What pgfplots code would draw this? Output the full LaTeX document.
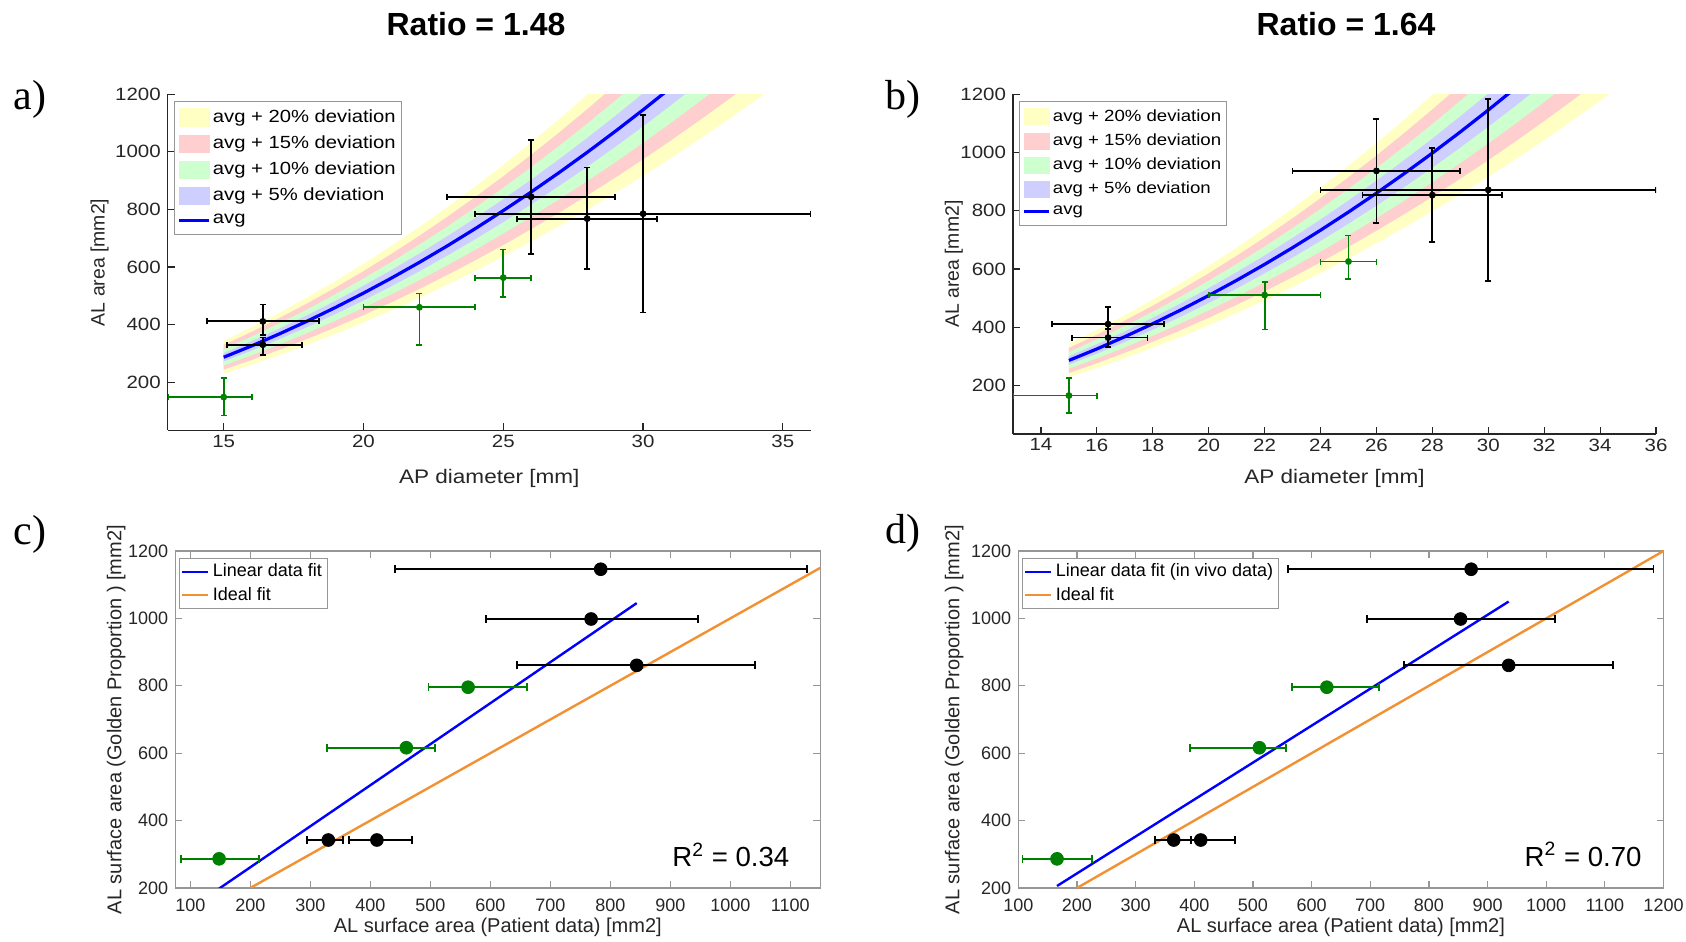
\documentclass[border=0pt]{standalone}
\usepackage{pgfplots}
\pgfplotsset{compat=1.18}
\usepackage{pgfplotstable}
\usepgfplotslibrary{fillbetween}
\usepackage{fontspec}
\setmainfont{Liberation Sans}
\newfontfamily\axs{Liberation Sans}[FakeStretch=1.15]
\newfontfamily\serifl{Liberation Serif}
\definecolor{mgray}{RGB}{38,38,38}
\definecolor{lgray}{RGB}{150,150,150}
\definecolor{cYel}{RGB}{255,255,196}
\definecolor{cRed}{RGB}{255,206,206}
\definecolor{cGrn}{RGB}{206,255,206}
\definecolor{cBlu}{RGB}{206,206,255}
\definecolor{mgreen}{RGB}{0,128,0}
\definecolor{morange}{RGB}{242,145,50}

\pgfplotstableread{
x avg u05 l05 u10 l10 u15 l15 u20 l20
15 286.5 300.8 272.2 315.2 257.9 329.5 243.5 343.8 229.2
16 325.9 342.2 309.6 358.5 293.3 374.8 277.0 391.1 260.7
17 368.0 386.4 349.6 404.8 331.2 423.2 312.8 441.6 294.4
18 412.5 433.1 391.9 453.8 371.3 474.4 350.6 495.0 330.0
19 459.6 482.6 436.6 505.6 413.6 528.5 390.7 551.5 367.7
20 509.3 534.8 483.8 560.2 458.4 585.7 432.9 611.2 407.4
21 561.5 589.6 533.4 617.7 505.4 645.7 477.3 673.8 449.2
22 616.2 647.0 585.4 677.8 554.6 708.6 523.8 739.4 493.0
23 673.5 707.2 639.8 740.9 606.2 774.5 572.5 808.2 538.8
24 733.4 770.1 696.7 806.7 660.1 843.4 623.4 880.1 586.7
25 795.8 835.6 756.0 875.4 716.2 915.2 676.4 955.0 636.6
26 860.7 903.7 817.7 946.8 774.6 989.8 731.6 1032.8 688.6
27 928.2 974.6 881.8 1021.0 835.4 1067.4 789.0 1113.8 742.6
28 998.2 1048.1 948.3 1098.0 898.4 1147.9 848.5 1197.8 798.6
29 1070.8 1124.3 1017.3 1177.9 963.7 1231.4 910.2 1285.0 856.6
30 1145.9 1203.2 1088.6 1260.5 1031.3 1317.8 974.0 1375.1 916.7
31 1223.6 1284.8 1162.4 1346.0 1101.2 1407.1 1040.1 1468.3 978.9
32 1303.8 1369.0 1238.6 1434.2 1173.4 1499.4 1108.2 1564.6 1043.0
33 1386.5 1455.8 1317.2 1525.2 1247.9 1594.5 1178.5 1663.8 1109.2
34 1471.8 1545.4 1398.2 1619.0 1324.6 1692.6 1251.0 1766.2 1177.4
35 1559.7 1637.7 1481.7 1715.7 1403.7 1793.7 1325.7 1871.6 1247.8
}\bandtab

\newcommand{\drawbands}[1]{%
  \addplot[draw=none, name path=#1u20, forget plot] table[x=x,y=u20]{\bandtab};
  \addplot[draw=none, name path=#1l20, forget plot] table[x=x,y=l20]{\bandtab};
  \addplot[draw=none, name path=#1u15, forget plot] table[x=x,y=u15]{\bandtab};
  \addplot[draw=none, name path=#1l15, forget plot] table[x=x,y=l15]{\bandtab};
  \addplot[draw=none, name path=#1u10, forget plot] table[x=x,y=u10]{\bandtab};
  \addplot[draw=none, name path=#1l10, forget plot] table[x=x,y=l10]{\bandtab};
  \addplot[draw=none, name path=#1u05, forget plot] table[x=x,y=u05]{\bandtab};
  \addplot[draw=none, name path=#1l05, forget plot] table[x=x,y=l05]{\bandtab};
  \addplot[fill=cYel, draw=none, forget plot] fill between[of=#1u20 and #1l20];
  \addplot[fill=cRed, draw=none, forget plot] fill between[of=#1u15 and #1l15];
  \addplot[fill=cGrn, draw=none, forget plot] fill between[of=#1u10 and #1l10];
  \addplot[fill=cBlu, draw=none, forget plot] fill between[of=#1u05 and #1l05];
  \addplot[blue, line width=1.6pt, forget plot] table[x=x,y=avg]{\bandtab};
}

% #1 = swatch width, #2 = half swatch height
\newcommand{\bandlegend}[2]{%
  \addlegendimage{legend image code/.code={\fill[cYel] (0pt,-#2) rectangle (#1,#2);}}
  \addlegendentry{avg + 20\% deviation}
  \addlegendimage{legend image code/.code={\fill[cRed] (0pt,-#2) rectangle (#1,#2);}}
  \addlegendentry{avg + 15\% deviation}
  \addlegendimage{legend image code/.code={\fill[cGrn] (0pt,-#2) rectangle (#1,#2);}}
  \addlegendentry{avg + 10\% deviation}
  \addlegendimage{legend image code/.code={\fill[cBlu] (0pt,-#2) rectangle (#1,#2);}}
  \addlegendentry{avg + 5\% deviation}
  \addlegendimage{legend image code/.code={\draw[blue, line width=1.6pt] (0pt,0pt) -- (#1,0pt);}}
  \addlegendentry{avg}
}

\pgfplotsset{
  common/.style={
    scale only axis,
    tick align=inside,
    major tick length=3.5pt,
    ticklabel style={font=\fontsize{9}{10}\selectfont, text=mgray},
    label style={font=\fontsize{10}{12}\selectfont, text=mgray},
    /pgf/number format/1000 sep={},
    /pgf/number format/assume math mode=true,
    ytick={200,400,...,1200},
    legend cell align=left,
  },
  toppanel/.style={
    common,
    xticklabel shift=-1.2pt,
    ticklabel style={font=\axs\fontsize{8.9}{10}\selectfont, text=mgray},
    xlabel style={font=\axs\fontsize{9.8}{11}\selectfont, text=mgray},
    ylabel style={font=\fontsize{9.7}{11}\selectfont, text=mgray},
    axis x line*=bottom, axis y line*=left,
    axis line style={-, mgray, line width=0.6pt},
    tick style={mgray, line width=0.6pt},
    xmin=13, xmax=36, ymax=1200,
    legend style={at={(axis description cs:0.0095,0.98)}, anchor=north west,
      draw=lgray, fill=white, text=black,
      inner xsep=1.5pt, inner ysep=2.5pt},
  },
  botpanel/.style={
    common,
    xticklabel shift=2pt,
    axis line style={lgray, line width=0.6pt},
    tick style={lgray, line width=0.6pt},
    ymin=200, ymax=1200,
    legend style={at={(axis description cs:0.005,0.98)}, anchor=north west,
      draw=lgray, fill=white, font=\fontsize{9}{10}\selectfont, text=black,
      row sep=0pt, inner xsep=1pt, inner ysep=1pt,
      nodes={inner sep=1.8pt}},
  },
  fitline/.style={line width=1.2pt, legend image code/.code={\draw (0pt,0pt) -- (13pt,0pt);}},
  ptsA/.style={only marks, mark=*, mark size=1.5pt, #1, mark options={fill=#1, draw=#1},
    error bars/.cd, x dir=both, x explicit, y dir=both, y explicit,
    error bar style={line width=0.9pt, #1},
    error mark options={rotate=90, line width=0.9pt, mark size=1.5pt, #1}},
  ptsC/.style={only marks, mark=*, mark size=3.2pt, #1, mark options={fill=#1, draw=#1},
    error bars/.cd, x dir=both, x explicit,
    error bar style={line width=0.9pt, #1},
    error mark options={rotate=90, line width=0.9pt, mark size=2pt, #1}},
}

\begin{document}
\begin{tikzpicture}
\path (0pt,0pt) rectangle (843pt,471pt);

% ---------- panel a ----------
\begin{axis}[toppanel, at={(83.9pt,255.75pt)}, anchor=south west,
  width=321.5pt, height=168.1pt, ymin=32,
  xtick={15,20,25,30,35},
  xlabel={AP diameter [mm]}, ylabel={AL area [mm2]},
  xlabel style={at={(axis description cs:0.5,-0.142)}, anchor=center},
  ylabel style={at={(axis description cs:-0.106,0.5)}, anchor=center},
  legend style={font=\axs\fontsize{8.8}{10}\selectfont, row sep=2pt,
    nodes={inner xsep=1.2pt, inner ysep=1.6pt}},
]
\bandlegend{15pt}{4.3pt}
\drawbands{A}
\addplot[forget plot, ptsA=black] coordinates {
 (16.4,411) += (2.0,59) -= (2.0,46)
 (16.4,330) += (1.41,25) -= (1.27,35)
 (26,844) += (3,197) -= (3,199)
 (28,768) += (2.5,178) -= (2.5,175)
 (30,785) += (6,344) -= (6,343)
};
\addplot[forget plot, ptsA=mgreen] coordinates {
 (15,148) += (1,66) -= (2,64)
 (22,460) += (2,48) -= (2,132)
 (25,563) += (1,98) -= (1,66)
};
\end{axis}

% ---------- panel b ----------
\begin{axis}[toppanel, at={(506.5pt,254pt)}, anchor=south west,
  width=321.5pt, height=169.85pt, ymin=34,
  xtick={14,16,...,36},
  xlabel={AP diameter [mm]}, ylabel={AL area [mm2]},
  xlabel style={at={(axis description cs:0.5,-0.131)}, anchor=center},
  ylabel style={at={(axis description cs:-0.092,0.5)}, anchor=center},
  legend style={font=\axs\fontsize{8.1}{9.5}\selectfont, row sep=1.7pt,
    nodes={inner xsep=1.1pt, inner ysep=1.5pt}},
]
\bandlegend{12.5pt}{4pt}
\drawbands{B}
\addplot[forget plot, ptsA=black] coordinates {
 (16.4,411) += (2.0,59) -= (2.0,46)
 (16.4,365) += (1.41,30) -= (1.3,32)
 (26,937) += (3,178) -= (3,178)
 (28,854) += (2.5,161) -= (2.5,160)
 (30,872) += (6,311) -= (6,312)
};
\addplot[forget plot, ptsA=mgreen] coordinates {
 (15,166) += (1,59) -= (2,59)
 (22,511) += (2,46) -= (2,118)
 (25,626) += (1,89) -= (1,60)
};
\end{axis}

% ---------- panel c ----------
\begin{axis}[botpanel, at={(87.65pt,27pt)}, anchor=south west,
  width=322.5pt, height=168.5pt, xmin=75, xmax=1150,
  xtick={100,200,...,1100},
  xlabel={AL surface area (Patient data) [mm2]},
  ylabel={AL surface area (Golden Proportion ) [mm2]},
  xlabel style={at={(axis description cs:0.5,-0.116)}, anchor=center},
  ylabel style={at={(axis description cs:-0.0915,0.5)}, anchor=center},
]
\addplot[blue, fitline] coordinates {(148,198.2) (844,1045.3)};
\addlegendentry{Linear data fit}
\addplot[morange, fitline] coordinates {(200,200) (1150,1150)};
\addlegendentry{Ideal fit}
\addplot[forget plot, ptsC=black] coordinates {
 (844,860.7) += (197,0) -= (199,0)
 (768,998.2) += (178,0) -= (175,0)
 (784,1145.9) += (344,0) -= (343,0)
 (411,342.4) += (59,0) -= (46,0)
 (330,342.4) += (25,0) -= (35,0)
};
\addplot[forget plot, ptsC=mgreen] coordinates {
 (148,286.5) += (66,0) -= (64,0)
 (460,616.2) += (48,0) -= (132,0)
 (563,795.8) += (98,0) -= (66,0)
};
\node[font=\fontsize{13.8}{15}\selectfont, text=black] at (axis cs:1001,298) {R\textsuperscript{2} = 0.34};
\end{axis}

% ---------- panel d ----------
\begin{axis}[botpanel, at={(509.15pt,27pt)}, anchor=south west,
  width=322.6pt, height=168.5pt, xmin=100, xmax=1200,
  xtick={100,200,...,1200},
  xlabel={AL surface area (Patient data) [mm2]},
  ylabel={AL surface area (Golden Proportion ) [mm2]},
  xlabel style={at={(axis description cs:0.5,-0.118)}, anchor=center},
  ylabel style={at={(axis description cs:-0.0995,0.5)}, anchor=center},
]
\addplot[blue, fitline] coordinates {(166,206) (936,1050)};
\addlegendentry{Linear data fit (in vivo data)}
\addplot[morange, fitline] coordinates {(200,200) (1200,1200)};
\addlegendentry{Ideal fit}
\addplot[forget plot, ptsC=black] coordinates {
 (936,860.7) += (178,0) -= (178,0)
 (854,998.2) += (161,0) -= (160,0)
 (872,1145.9) += (311,0) -= (312,0)
 (411,342.4) += (59,0) -= (46,0)
 (365,342.4) += (30,0) -= (32,0)
};
\addplot[forget plot, ptsC=mgreen] coordinates {
 (166,286.5) += (59,0) -= (59,0)
 (511,616.2) += (46,0) -= (118,0)
 (626,795.8) += (89,0) -= (60,0)
};
\node[font=\fontsize{13.8}{15}\selectfont, text=black] at (axis cs:1063,300) {R\textsuperscript{2} = 0.70};
\end{axis}

% ---------- titles and panel letters ----------
\node[font=\bfseries\fontsize{16}{18}\selectfont, anchor=center] at (238pt,459.2pt) {Ratio = 1.48};
\node[font=\bfseries\fontsize{16}{18}\selectfont, anchor=center] at (673pt,459.2pt) {Ratio = 1.64};
\node[font=\serifl\fontsize{21}{24}\selectfont, anchor=center] at (15pt,421.5pt) {a)};
\node[font=\serifl\fontsize{21}{24}\selectfont, anchor=center] at (451.5pt,421.5pt) {b)};
\node[font=\serifl\fontsize{21}{24}\selectfont, anchor=center] at (15pt,204pt) {c)};
\node[font=\serifl\fontsize{21}{24}\selectfont, anchor=center] at (451.5pt,204.5pt) {d)};
\pgfresetboundingbox
\useasboundingbox (0pt,0pt) rectangle (843pt,471pt);
\end{tikzpicture}
\end{document}
